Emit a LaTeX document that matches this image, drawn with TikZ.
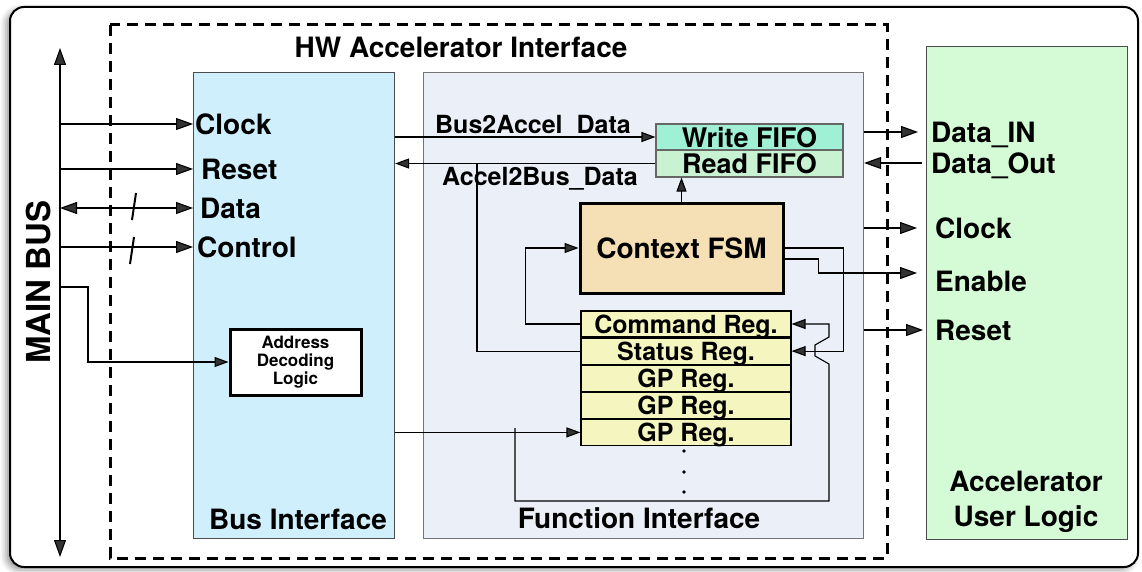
\documentclass[tikz,border=0pt]{standalone}
\usepackage{fontspec}
\setmainfont{TeX Gyre Heros}
\usetikzlibrary{arrows.meta,positioning,shadows.blur}
\definecolor{businf}{RGB}{208,239,252}
\definecolor{funcinf}{RGB}{235,240,248}
\definecolor{userlog}{RGB}{213,250,214}
\definecolor{wfifo}{RGB}{160,240,214}
\definecolor{rfifo}{RGB}{200,242,210}
\definecolor{fsmcol}{RGB}{245,223,181}
\definecolor{regcol}{RGB}{245,245,192}

\tikzset{
  big/.style={font=\fontsize{28}{32}\selectfont\bfseries},
  lbl/.style={big, inner sep=0pt, text depth=0pt},
  blk/.style={draw=black!70, line width=1.1pt, inner sep=0pt},
  reg/.style={blk, draw=black, fill=regcol, minimum width=210, minimum height=26,
    font=\fontsize{25}{26}\selectfont\bfseries, text depth=0pt},
  arr/.style={line width=1.1pt, -{Triangle[length=14pt,width=10pt]}},
  barr/.style={line width=1.1pt, -{Triangle[length=17pt,width=12pt]}},
  dbarr/.style={line width=1.1pt, {Triangle[length=17pt,width=12pt]}-{Triangle[length=17pt,width=12pt]}},
}

\begin{document}
\begin{tikzpicture}[x=1pt,y=-1pt]
\useasboundingbox (0,0) rectangle (1142,572);
\draw[line width=2pt, rounded corners=14pt, fill=white,
  blur shadow={shadow xshift=-4pt, shadow yshift=-3pt, shadow blur radius=6pt}] (10,7) rectangle (1138,567);

% HW accelerator interface
\draw[line width=3pt, dash pattern=on 11pt off 7pt] (110,25) rectangle (887,558);
\node[lbl] (hwt) at (461,47) {HW Accelerator Interface};

% main bus
\coordinate (bustop) at (60,48);
\coordinate (busbot) at (60,557);
\draw[dbarr] (bustop) -- (busbot);
\node[big, rotate=90, inner sep=0pt] (mb) at (38,282) {\fontsize{33}{36}\selectfont MAIN BUS};

% blocks
\node[blk, fill=businf, anchor=north west, minimum width=201, minimum height=466] (bus) at (193,72) {};
\node[blk, fill=funcinf, draw=black!55, anchor=north west, minimum width=440, minimum height=466] (fi) at (423,72) {};
\node[blk, fill=userlog, anchor=north west, minimum width=201, minimum height=493] (ul) at (926,46) {};
\node[lbl] (busl) at (298,519) {Bus Interface};
\node[lbl] (fil) at (639,518) {Function Interface};
\node[big, inner sep=0pt, align=center, font=\fontsize{28}{35}\selectfont\bfseries] (ull) at (1026,502) {Accelerator\\User Logic};

% bus side signals
\node[lbl, anchor=west] (clk) at (195,124) {Clock};
\node[lbl, anchor=west] (rst) at (201,169) {Reset};
\node[lbl, anchor=west] (dat) at (200,208) {Data};
\node[lbl, anchor=west] (ctl) at (197,247) {Control};
\draw[barr] (bustop |- clk) -- (bus.west |- clk);
\draw[barr] (bustop |- rst) -- (bus.west |- rst);
\draw[dbarr] (bustop |- dat) -- (bus.west |- dat);
\draw[barr] (bustop |- ctl) -- (bus.west |- ctl);
\draw[line width=2pt] (136,193) -- (132,220);
\draw[line width=2pt] (134,237) -- (130,264);

% address decoding
\node[blk, draw=black, line width=3pt, fill=white, minimum width=131, minimum height=66,
  align=center, font=\fontsize{17}{18}\selectfont\bfseries] (adl) at (295.5,362) {Address\\Decoding\\Logic};
\coordinate (adtap) at (60,287);
\draw[arr] (adtap) -- (88,287) |- (adl.west);

% fifos
\node[blk, fill=wfifo, draw=black!60, minimum width=187, minimum height=26,
  font=\fontsize{27}{28}\selectfont\bfseries, text depth=0pt] (wf) at (749.5,137) {Write FIFO};
\node[blk, fill=rfifo, draw=black!60, minimum width=187, minimum height=27,
  font=\fontsize{27}{28}\selectfont\bfseries, text depth=0pt] (rf) at (749.5,163.5) {Read FIFO};
\draw[arr] (bus.east |- wf) -- (wf.west);
\node[lbl, font=\fontsize{25}{26}\selectfont\bfseries] (b2a) at (533,124) {Bus2Accel\_Data};
\draw[arr] (rf.west) -- (bus.east |- rf);
\node[lbl, font=\fontsize{25}{26}\selectfont\bfseries] (a2b) at (540,176) {Accel2Bus\_Data};

% context fsm
\node[blk, draw=black, line width=3pt, fill=fsmcol, minimum width=203, minimum height=90,
  font=\fontsize{28}{30}\selectfont\bfseries, text depth=0pt] (fsm) at (681.5,248) {Context FSM};
\draw[arr] (fsm.north) -- (fsm.north |- rf.south);

% registers
\node[reg] (cmd) at (686,324) {Command Reg.};
\node[reg, below=0pt of cmd] (st) {Status Reg.};
\node[reg, below=0pt of st] (gp1) {GP Reg.};
\node[reg, below=0pt of gp1] (gp2) {GP Reg.};
\node[reg, below=0pt of gp2] (gp3) {GP Reg.};
\foreach \y in {451,472,492}
  \fill (684,\y) circle (1.8pt);

% register connections
\draw[arr] (cmd.west) -- ++(-55,0) |- (fsm.west);
\coordinate (a2bj) at (477,163.5);
\draw[line width=1.1pt] (st.west) -| (a2bj);
\draw[arr] (fsm.east) -- ++(59,0) |- (st.east);
\draw[arr] (bus.east |- gp3) -- (gp3.west);
\coordinate (gpj) at (515,428);
\draw[arr] (gpj) -- (515,501) -- (829,501) -- (829,364) -- (815,356) -- (815,345) -- (829,337) |- (cmd.east);

% user logic side
\node[lbl, anchor=west] (din) at (931,132) {Data\_IN};
\node[lbl, anchor=west] (dout) at (931,163) {Data\_Out};
\node[lbl, anchor=west] (uclk) at (935,228) {Clock};
\node[lbl, anchor=west] (uen) at (935,281) {Enable};
\node[lbl, anchor=west] (urst) at (935,330) {Reset};
\draw[barr, shorten >=8pt] (fi.east |- din) -- (ul.west |- din);
\draw[barr, shorten <=4pt] (ul.west |- dout) -- (fi.east |- dout);
\draw[barr, shorten >=9pt] (fi.east |- uclk) -- (ul.west |- uclk);
\coordinate (ent) at (917,273);
\draw[barr] ([yshift=-11pt]fsm.east) -- ++(34,0) |- (ent);
\draw[barr, shorten >=3pt] (fi.east |- urst) -- (ul.west |- urst);
\end{tikzpicture}
\end{document}
